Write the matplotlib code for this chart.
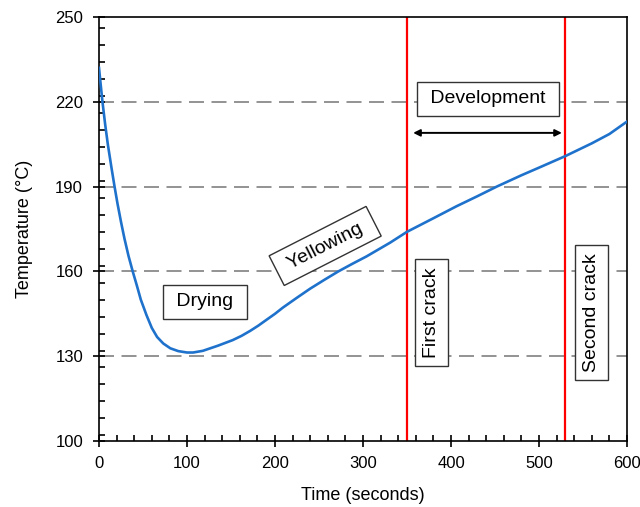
import matplotlib
matplotlib.use("Agg")
import matplotlib.pyplot as plt
from matplotlib.ticker import MultipleLocator

plt.rcParams['font.family'] = ['Liberation Sans', 'DejaVu Sans']

# Data
time_s = [0, 2, 4, 7, 10, 14, 17.5, 21, 25, 29, 33.5, 38.3, 43, 47.5, 54, 60,
          66, 73, 81, 90, 100, 107, 118, 135, 152, 162, 172, 181, 190, 200,
          209, 225, 240, 256, 272, 288, 304, 331, 350, 380, 406, 430, 452,
          480, 500, 530, 560, 580, 600]
temp_c = [232, 225.8, 219.8, 212, 205, 197, 190.3, 184, 177.5, 171.5, 165.5,
          160, 155, 150, 144.5, 140, 136.8, 134.5, 132.8, 131.8, 131.3, 131.3,
          131.9, 133.7, 135.7, 137.2, 139, 140.8, 142.8, 145, 147.2, 150.7,
          153.9, 157, 160, 162.7, 165.3, 170.2, 174, 178.8, 183, 186.6, 190,
          194, 196.7, 200.8, 205.3, 208.6, 213]
first_crack = 350
second_crack = 530
grid_levels = [130, 160, 190, 220]
x_ticks = [0, 100, 200, 300, 400, 500, 600]
y_ticks = [100, 130, 160, 190, 220, 250]

fig = plt.figure(figsize=(6.4, 5.07), dpi=100)
ax = fig.add_axes([0.1547, 0.1302, 0.825, 0.8363])

for g in grid_levels:
    ax.axhline(g, color='#808080', lw=1.2, ls=(0, (9, 4.5)), zorder=1)

ax.plot(time_s, temp_c, color='#1f72cc', lw=1.9, zorder=3,
        solid_joinstyle='round')
ax.axvline(first_crack, color='#ff0000', lw=1.6, zorder=2)
ax.axvline(second_crack, color='#ff0000', lw=1.6, zorder=2)

ax.set_xlim(0, 600)
ax.set_ylim(100, 250)
ax.set_xticks(x_ticks)
ax.set_yticks(y_ticks)
ax.xaxis.set_minor_locator(MultipleLocator(20))
ax.yaxis.set_minor_locator(MultipleLocator(6))
ax.tick_params(which='major', direction='inout', length=8, width=1.2,
               labelsize=12)
ax.tick_params(axis='x', which='major', pad=7)
ax.tick_params(axis='y', which='major', pad=7.5)
ax.tick_params(which='minor', direction='in', length=4, width=1.2)
for s in ax.spines.values():
    s.set_linewidth(1.2)

ax.set_xlabel('Time (seconds)', fontsize=13, labelpad=11)
ax.set_ylabel('Temperature (°C)', fontsize=13, labelpad=16)

box = dict(boxstyle='square,pad=0.42', fc='white', ec='#333333', lw=1.0)
ax.text(120, 149.2, ' Drying ', ha='center', va='center', fontsize=14, bbox=box, zorder=4)
ax.text(257, 169, ' Yellowing ', ha='center', va='center', fontsize=14,
        rotation=27, rotation_mode='anchor', bbox=box, zorder=4)
ax.text(442, 221, ' Development ', ha='center', va='center', fontsize=14, bbox=box, zorder=4)
ax.text(377.6, 145.5, 'First crack', ha='center', va='center', fontsize=14,
        rotation=90, bbox=box, zorder=4)
ax.text(560, 145.4, 'Second crack', ha='center', va='center', fontsize=14,
        rotation=90, bbox=box, zorder=4)
ax.annotate('', xy=(526, 209), xytext=(357, 209),
            arrowprops=dict(arrowstyle='<|-|>', color='black', lw=1.4,
                            mutation_scale=10, shrinkA=0, shrinkB=0), zorder=4)

fig.savefig('out.png', dpi=100)
